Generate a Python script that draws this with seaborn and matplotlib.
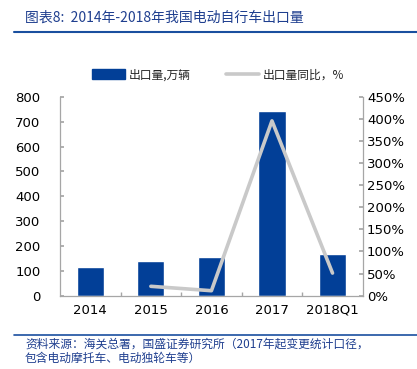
import numpy as np
import pandas as pd
import matplotlib
matplotlib.use('Agg')
import matplotlib.pyplot as plt
from matplotlib.lines import Line2D
from matplotlib.patches import Patch
from matplotlib.ticker import MultipleLocator, FixedLocator
import seaborn as sns

# ---------------------------
# Data
# ---------------------------
years = ['2014', '2015', '2016', '2017', '2018Q1']
exports = [117, 140, 154, 742, 169]          # 出口量, 万辆
yoy_years = ['2015', '2016', '2017', '2018Q1']
yoy = [21, 11, 396, 51]                       # 出口量同比, %

title = '图表8:  2014年-2018年我国电动自行车出口量'
source = ['资料来源：海关总署，国盛证券研究所（2017年起变更统计口径，',
          '包含电动摩托车、电动独轮车等）']

BLUE = '#023F97'
GREY = '#C9C9C9'
TXT_BLUE = '#1F3F8F'

sns.set_theme(style='white')
plt.rcParams['font.family'] = ['DejaVu Sans', 'Noto Sans CJK SC']
cjk = ['Noto Sans CJK SC', 'DejaVu Sans']

fig = plt.figure(figsize=(4.17, 3.69), dpi=100)
ax = fig.add_axes([0.144, 0.199, 0.726, 0.538])

df = pd.DataFrame({'year': years, 'exports': exports})
sns.barplot(data=df, x='year', y='exports', order=years, color=BLUE,
            saturation=1, width=0.45, ax=ax)

ax2 = ax.twinx()
pos = [years.index(y) for y in yoy_years]
sns.lineplot(x=pos, y=yoy, color=GREY, linewidth=2.6, ax=ax2)

ax.set_xlim(-0.5, len(years) - 0.5)
ax.set_ylim(0, 800)
ax.yaxis.set_major_locator(MultipleLocator(100))
ax2.set_ylim(0, 450)
ax2.yaxis.set_major_locator(MultipleLocator(50))
ax2.set_yticklabels(['{:.0f}%'.format(v) for v in ax2.get_yticks()])

ax.set_xlabel('')
ax.set_ylabel('')
ax2.set_ylabel('')

spine_c = '#A6A6A6'
for a in (ax, ax2):
    for s in a.spines.values():
        s.set_visible(False)
ax.spines['left'].set_visible(True)
ax.spines['bottom'].set_visible(True)
ax2.spines['right'].set_visible(True)
for s in (ax.spines['left'], ax.spines['bottom'], ax2.spines['right']):
    s.set_color(spine_c)
    s.set_linewidth(0.9)

ax.tick_params(axis='y', direction='in', length=3, color=spine_c, labelsize=9.5,
               labelcolor='black', left=True, pad=14)
ax2.tick_params(axis='y', direction='in', length=3, color=spine_c, labelsize=9.5,
                labelcolor='black', right=True, pad=3)
ax.tick_params(axis='x', length=0, labelsize=9.5, labelcolor='black', pad=6)
ax.xaxis.set_minor_locator(FixedLocator(np.arange(0.5, len(years) - 0.5, 1)))
ax.tick_params(axis='x', which='minor', direction='in', length=3, color=spine_c, bottom=True)

# legend
handles = [Patch(facecolor=BLUE, edgecolor=BLUE),
           Line2D([0], [0], color=GREY, linewidth=2.6)]
labels = ['出口量,万辆', '出口量同比，%']
fig.legend(handles, labels, loc='center', bbox_to_anchor=(0.522, 0.797), ncol=2,
           frameon=False, prop={'family': cjk, 'size': 8.5}, handlelength=2.8,
           handleheight=0.9, handletextpad=0.3, columnspacing=3.0)

# title and source
fig.text(0.06, 0.952, title, family=cjk, fontsize=10, color=TXT_BLUE,
         style='italic', va='center')
fig.add_artist(Line2D([0.034, 1.0], [0.913, 0.913], color='#1A4F9F', linewidth=1.5))
fig.add_artist(Line2D([0.034, 1.0], [0.093, 0.093], color='#1A4F9F', linewidth=1.2))
fig.text(0.06, 0.068, source[0], family=cjk, fontsize=8.5, color=TXT_BLUE,
         style='italic', va='center')
fig.text(0.06, 0.03, source[1], family=cjk, fontsize=8.5, color=TXT_BLUE,
         style='italic', va='center')

fig.savefig('out.png', dpi=100)
